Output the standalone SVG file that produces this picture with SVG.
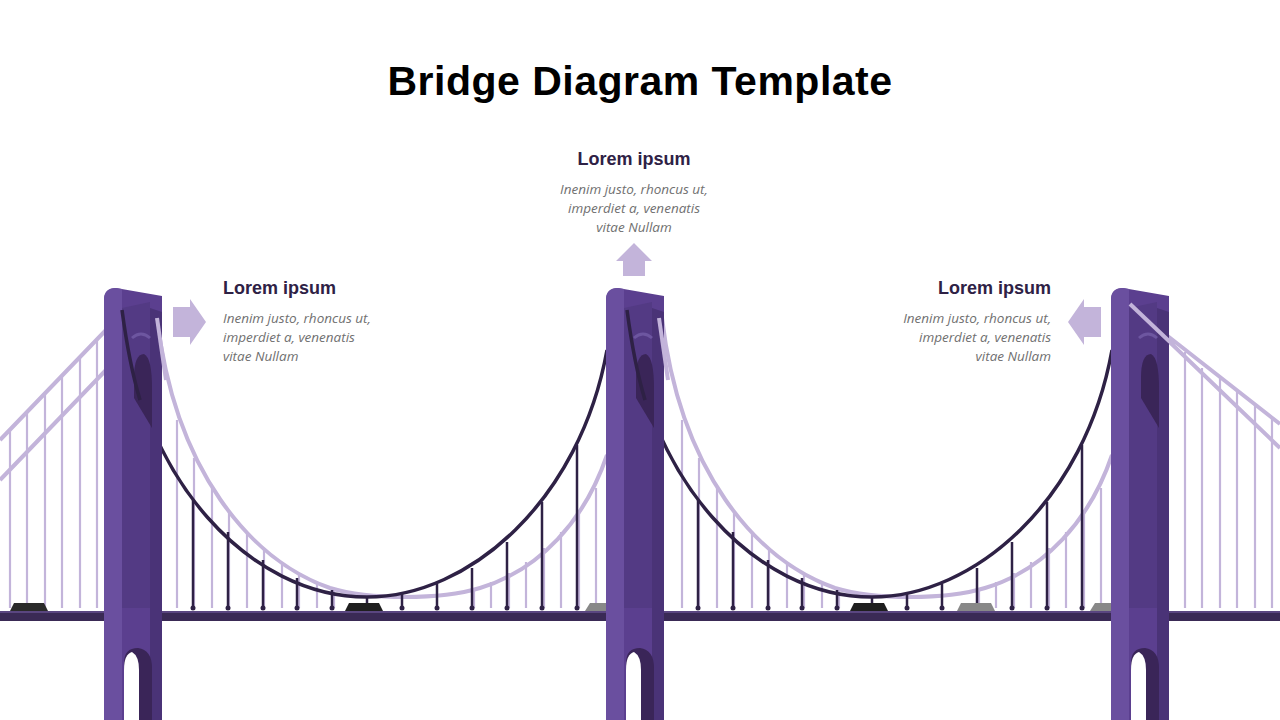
<svg xmlns="http://www.w3.org/2000/svg" width="1280" height="720" viewBox="0 0 1280 720">
<style>
.t{font-family:"Liberation Sans",Arial,sans-serif;font-weight:bold;fill:#000}
.h{font-family:"Liberation Sans",Arial,sans-serif;font-weight:bold;font-size:18px;fill:#2e2145}
.b{font-family:"Open Sans","Liberation Sans",sans-serif;font-style:italic;font-size:13.5px;fill:#707070}
.lc{fill:none;stroke:#c3b4da;stroke-width:4;stroke-linejoin:round}
.lh{stroke:#c3b4da;stroke-width:2.2}
.dc{fill:none;stroke:#2e2145;stroke-width:3.5;stroke-linejoin:round}
.dh{stroke:#2e2145;stroke-width:2.5}
.ar{fill:#c3b4da}
</style>
<defs>
<g id="tower">
<path d="M0,12 Q0,0 12,0 L58,8 L58,432 L0,432 Z" fill="#5b3f8f"/>
<path d="M0,12 Q0,0 12,0 L18,1 L18,432 L0,432 Z" fill="#6a4f9f"/>
<path d="M46,20 L58,24 L58,432 L46,432 Z" fill="#4a3377"/>
<path d="M18,20 L46,14 L46,320 L18,320 Z" fill="#533a84"/>
<path d="M30,90 Q30,66 40,66 Q48,70 48,100 L48,140 Q36,120 30,110 Z" fill="#3a2558"/>
<path d="M28,50 Q37,42 46,50" fill="none" stroke="#6d56a0" stroke-width="3"/>
<path d="M20,375 Q20,360 34,360 Q48,362 48,380 L48,432 L20,432 Z" fill="#3a2558"/>
<path d="M20,382 Q20,366 28,364 Q35,368 35,382 L35,432 L20,432 Z" fill="#fff"/>
</g>
</defs>
<text class="t" x="640" y="95" font-size="41" text-anchor="middle" letter-spacing="0.5">Bridge Diagram Template</text>

<g id="connectors">
<path class="lc" d="M106,330 L0,440 M106,370 L0,480"/>
<g class="lh">
<line x1="10" y1="430" x2="10" y2="608"/><line x1="27" y1="412" x2="27" y2="608"/><line x1="45" y1="393" x2="45" y2="608"/><line x1="62" y1="375" x2="62" y2="608"/><line x1="80" y1="357" x2="80" y2="608"/><line x1="97" y1="340" x2="97" y2="608"/>
</g>
<path class="lc" d="M1130,304 L1280,448 M1160,330 L1280,424"/>
<g class="lh">
<line x1="1185" y1="352" x2="1185" y2="608"/><line x1="1202" y1="368" x2="1202" y2="608"/><line x1="1220" y1="377" x2="1220" y2="608"/><line x1="1237" y1="390" x2="1237" y2="608"/><line x1="1255" y1="404" x2="1255" y2="608"/><line x1="1272" y1="418" x2="1272" y2="608"/>
</g>
<g id="spanL">
<g class="lh">
<line x1="177" y1="420" x2="177" y2="608"/><line x1="194" y1="458" x2="194" y2="608"/><line x1="212" y1="488" x2="212" y2="608"/><line x1="229" y1="512" x2="229" y2="608"/><line x1="247" y1="532" x2="247" y2="608"/><line x1="264" y1="548" x2="264" y2="608"/><line x1="282" y1="562" x2="282" y2="608"/><line x1="299" y1="573" x2="299" y2="608"/><line x1="317" y1="582" x2="317" y2="608"/><line x1="334" y1="588" x2="334" y2="608"/>
<line x1="474" y1="588" x2="474" y2="608"/><line x1="491" y1="582" x2="491" y2="608"/><line x1="509" y1="573" x2="509" y2="608"/><line x1="526" y1="562" x2="526" y2="608"/><line x1="544" y1="548" x2="544" y2="608"/><line x1="561" y1="532" x2="561" y2="608"/><line x1="579" y1="512" x2="579" y2="608"/><line x1="596" y1="488" x2="596" y2="608"/>
</g>
<path class="lc" d="M157,318 C175,470 250,560 330,588 C370,600 440,600 480,588 C540,570 585,520 607,455"/>
</g>
<use href="#spanL" x="505"/>
<g id="spanD">
<g class="dh">
<line x1="193" y1="500" x2="193" y2="608"/><line x1="228" y1="532" x2="228" y2="608"/><line x1="263" y1="560" x2="263" y2="608"/><line x1="297" y1="578" x2="297" y2="608"/><line x1="332" y1="590" x2="332" y2="608"/><line x1="367" y1="596" x2="367" y2="608"/><line x1="402" y1="593" x2="402" y2="608"/><line x1="437" y1="584" x2="437" y2="608"/><line x1="472" y1="568" x2="472" y2="608"/><line x1="507" y1="542" x2="507" y2="608"/><line x1="542" y1="502" x2="542" y2="608"/><line x1="577" y1="445" x2="577" y2="608"/>
</g>
<g fill="#2e2145">
<circle cx="193" cy="608" r="2.5"/><circle cx="228" cy="608" r="2.5"/><circle cx="263" cy="608" r="2.5"/><circle cx="297" cy="608" r="2.5"/><circle cx="332" cy="608" r="2.5"/><circle cx="367" cy="608" r="2.5"/><circle cx="402" cy="608" r="2.5"/><circle cx="437" cy="608" r="2.5"/><circle cx="472" cy="608" r="2.5"/><circle cx="507" cy="608" r="2.5"/><circle cx="542" cy="608" r="2.5"/><circle cx="577" cy="608" r="2.5"/>
</g>
<path class="dc" d="M122,310 C140,480 250,597 367,597 C470,597 580,500 607,350"/>
</g>
<use href="#spanD" x="505"/>
</g>

<g id="cars">
<path d="M10,611 L14,603 L44,603 L48,611 Z" fill="#2a2a2a"/>
<path d="M122,611 L126,603 L140,603 L146,611 Z" fill="#888"/>
<path d="M345,611 L349,603 L379,603 L383,611 Z" fill="#1f1f1f"/>
<path d="M585,611 L590,603 L606,603 L606,611 Z" fill="#888"/>
<path d="M850,611 L854,603 L884,603 L888,611 Z" fill="#1f1f1f"/>
<path d="M957,611 L961,603 L991,603 L995,611 Z" fill="#888"/>
<path d="M1090,611 L1095,603 L1111,603 L1111,611 Z" fill="#888"/>
</g>
<g id="deck">
<rect x="0" y="611" width="1280" height="10" fill="#3a2a55"/>
<rect x="0" y="611" width="1280" height="2" fill="#5a4680"/>
</g>

<g id="tower1"><use href="#tower" x="104" y="288"/></g>
<g id="tower2"><use href="#tower" x="606" y="288"/></g>
<g id="tower3"><use href="#tower" x="1111" y="288"/></g>
<path class="lc" d="M1130,304 L1170,342" stroke-width="3"/>
<path class="lc" d="M157,318 C160,340 163,360 166,380" stroke-width="3"/>
<path class="lc" d="M659,318 C662,340 665,360 668,380" stroke-width="3"/>
<path class="dc" d="M122,310 C126,340 131,370 140,400"/>
<path class="dc" d="M627,310 C631,340 636,370 645,400"/>

<g id="note-left">
<path class="ar" d="M173,307 L190,307 L190,299 L206,322 L190,345 L190,337 L173,337 Z"/>
<text class="h" x="223" y="294">Lorem ipsum</text>
<text class="b" x="223" y="323">Inenim justo, rhoncus ut,</text>
<text class="b" x="223" y="342">imperdiet a, venenatis</text>
<text class="b" x="223" y="361">vitae Nullam</text>
</g>
<g id="note-top">
<path class="ar" d="M634,243 L652,261 L645,261 L645,276 L623,276 L623,261 L616,261 Z"/>
<text class="h" x="634" y="165" text-anchor="middle">Lorem ipsum</text>
<text class="b" x="634" y="194" text-anchor="middle">Inenim justo, rhoncus ut,</text>
<text class="b" x="634" y="213" text-anchor="middle">imperdiet a, venenatis</text>
<text class="b" x="634" y="232" text-anchor="middle">vitae Nullam</text>
</g>
<g id="note-right">
<path class="ar" d="M1101,307 L1084,307 L1084,299 L1068,322 L1084,345 L1084,337 L1101,337 Z"/>
<text class="h" x="1051" y="294" text-anchor="end">Lorem ipsum</text>
<text class="b" x="1051" y="323" text-anchor="end">Inenim justo, rhoncus ut,</text>
<text class="b" x="1051" y="342" text-anchor="end">imperdiet a, venenatis</text>
<text class="b" x="1051" y="361" text-anchor="end">vitae Nullam</text>
</g>
</svg>
